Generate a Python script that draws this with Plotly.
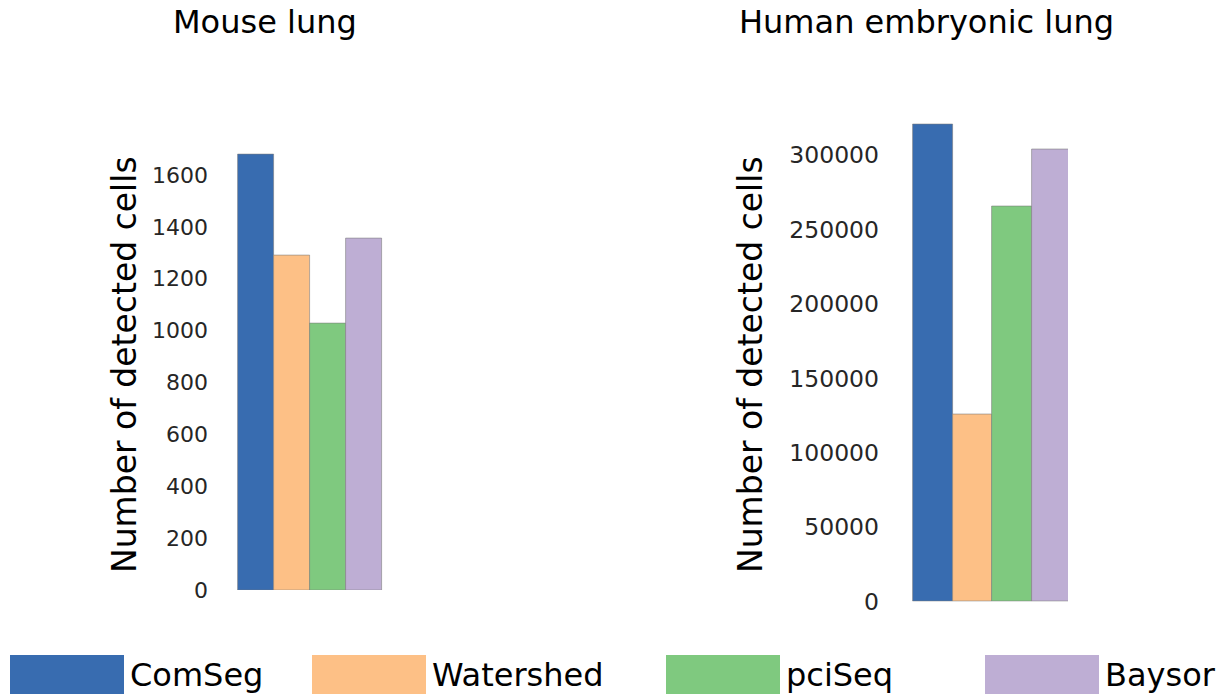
import plotly.graph_objects as go

methods = ["ComSeg", "Watershed", "pciSeq", "Baysor"]
colors = ["#386cb0", "#fdc086", "#7fc97f", "#beaed4"]
mouse_cells = [1680, 1290, 1027, 1355]
human_cells = [320800, 125900, 265700, 303800]
mouse_ticks = [0, 200, 400, 600, 800, 1000, 1200, 1400, 1600]
human_ticks = [0, 50000, 100000, 150000, 200000, 250000, 300000]
titles = ["Mouse lung", "Human embryonic lung"]
ytitle = "Number of detected cells"

W, H = 1228, 694
OFF = 0  # page body margin is reset to 0 below
FONT = "DejaVu Sans"

def px(x):
    return (x - OFF) / W

def py(y):
    return 1 - (y - OFF) / H

fig = go.Figure()
edge = dict(color="rgba(120,120,120,0.7)", width=0.8)
fig.add_trace(go.Bar(x=methods, y=mouse_cells, marker=dict(color=colors, line=edge),
                     xaxis="x", yaxis="y", showlegend=False, width=1))
fig.add_trace(go.Bar(x=methods, y=human_cells, marker=dict(color=colors, line=edge),
                     xaxis="x2", yaxis="y2", showlegend=False, width=1))

# panel geometry (window pixels)
L_bar0, L_bw = 238, 36
L_dom0, L_dom1 = 209, 400
R_bar0, R_bw = 913.3, 39.4
R_dom0, R_dom1 = 880, 1068

tickfont_l = dict(family=FONT, size=22, color="#262626")
tickfont_r = dict(family=FONT, size=23.5, color="#262626")

fig.update_layout(
    width=W, height=H,
    margin=dict(l=0, r=0, t=0, b=0),
    plot_bgcolor="white", paper_bgcolor="white",
    bargap=0, barmode="group",
    font=dict(family=FONT),
    xaxis=dict(domain=[px(L_dom0), px(L_dom1)],
               range=[-0.5 - (L_bar0 - L_dom0) / L_bw, -0.5 + (L_dom1 - L_bar0) / L_bw],
               showticklabels=False, showgrid=False, zeroline=False, showline=False,
               anchor="y", automargin=False),
    yaxis=dict(domain=[py(590), py(590 - 1760 * 415 / 1600)], range=[0, 1760],
               tickvals=mouse_ticks, tickformat="d", tickfont=tickfont_l,
               showgrid=False, zeroline=False, showline=False, ticks="",
               anchor="x", automargin=False),
    xaxis2=dict(domain=[px(R_dom0), px(R_dom1)],
                range=[-0.5 - (R_bar0 - R_dom0) / R_bw, -0.5 + (R_dom1 - R_bar0) / R_bw],
                showticklabels=False, showgrid=False, zeroline=False, showline=False,
                anchor="y2", automargin=False),
    yaxis2=dict(domain=[py(601.7), py(601.7 - 340000 * 446.7 / 300000)], range=[0, 340000],
                tickvals=human_ticks, tickformat="d", tickfont=tickfont_r,
                showgrid=False, zeroline=False, showline=False, ticks="",
                anchor="x2", automargin=False),
)

annotations = []
for t, xc in zip(titles, [264.7, 926.5]):
    annotations.append(dict(text=t, x=px(xc), y=py(22.5), xref="paper", yref="paper",
                            xanchor="center", yanchor="middle", showarrow=False,
                            font=dict(family=FONT, size=32, color="black")))
for xc in [124, 750]:
    annotations.append(dict(text=ytitle, x=px(xc), y=py(365), xref="paper", yref="paper",
                            xanchor="center", yanchor="middle", showarrow=False, textangle=-90,
                            font=dict(family=FONT, size=33, color="black")))

# legend drawn as patches with labels
leg_x = [10, 312, 666, 985]
shapes = []
for m, c, x0 in zip(methods, colors, leg_x):
    shapes.append(dict(type="rect", xref="paper", yref="paper",
                       x0=px(x0), x1=px(x0 + 114), y0=py(700), y1=py(655),
                       fillcolor=c, line=dict(width=0)))
    annotations.append(dict(text=m, x=px(x0 + 118), y=py(675), xref="paper", yref="paper",
                            xanchor="left", yanchor="middle", showarrow=False,
                            font=dict(family=FONT, size=32, color="black")))

fig.update_layout(annotations=annotations, shapes=shapes)
fig.write_html("out.html", config={"displayModeBar": False},
               post_script="document.body.style.margin='0px';")
